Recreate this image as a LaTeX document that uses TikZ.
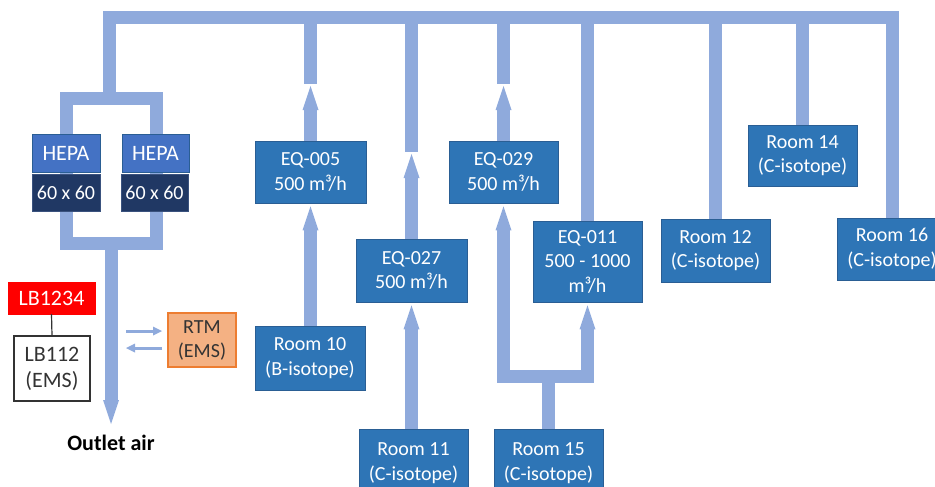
\documentclass[tikz,border=0pt]{standalone}
\usepackage{fontspec}
\setmainfont{Carlito}
\usetikzlibrary{arrows.meta}
\definecolor{duct}{HTML}{8FAADC}
\definecolor{boxblue}{HTML}{2E75B6}
\definecolor{boxborder}{HTML}{2A5E94}
\definecolor{hepablue}{HTML}{4472C4}
\definecolor{navy}{HTML}{203864}
\definecolor{navyborder}{HTML}{3A527E}
\definecolor{lbred}{HTML}{FF0000}
\definecolor{rtmfill}{HTML}{F4B183}
\definecolor{rtmborder}{HTML}{ED7D31}
\definecolor{darktext}{HTML}{333333}
\tikzset{
  ductline/.style={draw=duct, line width=13pt, line join=miter},
  ductarrow/.style={ductline, -{Triangle[width=16pt,length=24pt,line width=0pt]}},
  sigarrow/.style={draw=duct, line width=3pt, -{Triangle[width=9pt,length=9pt,line width=0pt]}},
  box/.style={draw=boxborder, fill=boxblue, text=white, line width=0.8pt, inner sep=0pt, align=center, font=\fontsize{20}{24.5}\selectfont},
  hepabox/.style={box, fill=hepablue, draw=boxborder, font=\fontsize{22}{26}\selectfont},
  sizebox/.style={box, fill=navy, draw=navyborder},
  wh/.style 2 args={minimum width=#1, minimum height=#2},
}
\begin{document}
\begin{tikzpicture}[x=1pt,y=-1pt]
\useasboundingbox (0,0) rectangle (935,487);
% nodes (positions)
\node[box, wh={111pt}{62pt}] (eq005) at (310.5,172) {EQ-005\\500 m³/h};
\node[box, wh={111pt}{63pt}] (eq027) at (411.5,270.5) {EQ-027\\500 m³/h};
\node[box, wh={109pt}{62pt}] (eq029) at (503.5,172) {EQ-029\\500 m³/h};
\node[box, wh={109pt}{81pt}] (eq011) at (587.5,261.5) {EQ-011\\500 - 1000\\m³/h};
\node[box, wh={110pt}{64pt}] (room10) at (310,358) {Room 10\\(B-isotope)};
\node[box, wh={109pt}{68pt}] (room11) at (413.5,463) {Room 11\\(C-isotope)};
\node[box, wh={109pt}{68pt}] (room15) at (548.5,463) {Room 15\\(C-isotope)};
\node[box, wh={109pt}{63pt}] (room12) at (715.5,250.5) {Room 12\\(C-isotope)};
\node[box, wh={109pt}{61pt}] (room14) at (802.5,155.5) {Room 14\\(C-isotope)};
\node[box, wh={110pt}{62pt}] (room16) at (892,249) {Room 16\\(C-isotope)};
% coordinates for duct ends
\coordinate (T) at (0,18);
\coordinate (hepatop) at (109.5,98.5);
\coordinate (s005) at (310.5,84);
\coordinate (t005) at (310.5,86);
\coordinate (s027) at (411.5,152);
\coordinate (t027) at (411.5,154);
\coordinate (s029) at (503.5,84);
\coordinate (t029) at (503.5,86);
\coordinate (fork) at (548,376);
\coordinate (outtop) at (111,243.5);
\coordinate (outtip) at (111,424);
% ducts
\draw[ductline] (hepatop) -- (109.5,18) -- (892,18) -- (room16.north);
\draw[ductline] (66.5,98.5) rectangle (156.5,243.5);
\draw[ductarrow] (outtop) -- (outtip);
\draw[ductline] (s005 |- T) -- (s005);
\draw[ductline] (s027 |- T) -- (s027);
\draw[ductline] (s029 |- T) -- (s029);
\draw[ductline] (eq011.north |- T) -- (eq011.north);
\draw[ductline] (room12.north |- T) -- (room12.north);
\draw[ductline] (room14.north |- T) -- (room14.north);
\draw[ductarrow] (eq005.north) -- (t005);
\draw[ductarrow] (eq027.north) -- (t027);
\draw[ductarrow] (eq029.north) -- (t029);
\draw[ductarrow] (eq005.south |- room10.north) -- ([yshift=-3pt]eq005.south);
\draw[ductarrow] (eq027.south |- room11.north) -- ([yshift=-3pt]eq027.south);
\draw[ductline] (fork |- room15.north) -- (fork);
\draw[ductarrow] (fork) -| ([yshift=-3pt]eq029.south);
\draw[ductarrow] (fork) -| ([yshift=-3pt]eq011.south);
% HEPA filters
\node[hepabox, wh={68pt}{38pt}] (hepaL) at (66,153) {HEPA};
\node[hepabox, wh={67pt}{38pt}] (hepaR) at (155.5,153) {HEPA};
\node[sizebox, wh={68pt}{37pt}] (sixL) at (66,192.5) {60 x 60};
\node[sizebox, wh={67pt}{37pt}] (sixR) at (154.5,192.5) {60 x 60};
% left side
\node[draw=lbred, fill=lbred, text=white, inner sep=0pt, wh={87pt}{32pt}, font=\fontsize{22}{26}\selectfont] (lb1234) at (51.5,298) {LB1234};
\node[draw=darktext, fill=white, text=darktext, line width=1.2pt, inner sep=0pt, align=center, wh={76pt}{65pt}, font=\fontsize{22}{26}\selectfont] (lb112) at (52,368.5) {LB112\\(EMS)};
\draw[darktext, line width=1.2pt] (lb1234.south) -- (lb112.north);
\node[draw=rtmborder, fill=rtmfill, text=darktext, line width=1.2pt, inner sep=0pt, align=center, wh={68pt}{54pt}, font=\fontsize{20}{24}\selectfont] (rtm) at (202,340) {RTM\\(EMS)};
\coordinate (a1s) at (126,331);
\coordinate (a2e) at (126,348);
\draw[sigarrow] (a1s) -- (a1s -| 162,0);
\draw[sigarrow] (a2e -| 162,0) -- (a2e);
\node[font=\bfseries\fontsize{22}{26}\selectfont, text=black, inner sep=0pt] (outlet) at (111,443) {Outlet air};
\end{tikzpicture}
\end{document}
